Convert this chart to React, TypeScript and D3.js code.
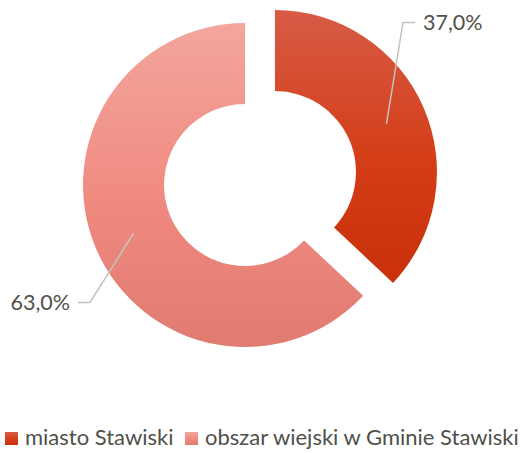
import React from "react";
import * as d3 from "d3";

const categories = ["miasto Stawiski", "obszar wiejski w Gminie Stawiski"];
const values = [37.0, 63.0];
const valueLabels = ["37,0%", "63,0%"];
const gradTop = ["#d75b46", "#f3a69d"];
const gradMid = ["#d43d17", "#f08a80"];
const gradBottom = ["#c9300b", "#e07b71"];
// label anchor offsets (relative to chart centre) for leader line elbow/text
const labelElbow = [
  [143, -156],
  [-170, 124],
];

const W = 526;
const H = 453;
const cx = 260;
const cy = 178.5;
const outerR = 162;
const innerR = 81;
const explode = 16.3;

export default function App() {
  const pie = d3.pie<number>().sort(null).value((d) => d);
  const arcs = pie(values);
  const arcGen = d3.arc<d3.PieArcDatum<number>>().innerRadius(innerR).outerRadius(outerR);
  const midR = (innerR + outerR) / 2;
  const font = "Lato, 'Open Sans', sans-serif";
  const textColor = "#505049";

  return (
    <svg
      width={W}
      height={H}
      style={{ position: "absolute", left: 0, top: 0, background: "#fff" }}
    >
      <defs>
        {arcs.map((a, i) => (
          <linearGradient key={i} id={`g${i}`} x1="0" y1="0" x2="0" y2="1">
            <stop offset="0" stopColor={gradTop[i]} />
            <stop offset="0.55" stopColor={gradMid[i]} />
            <stop offset="1" stopColor={gradBottom[i]} />
          </linearGradient>
        ))}
      </defs>
      {arcs.map((a, i) => {
        const mid = (a.startAngle + a.endAngle) / 2;
        const ox = cx + explode * Math.sin(mid);
        const oy = cy - explode * Math.cos(mid);
        const px = ox + midR * Math.sin(mid);
        const py = oy - midR * Math.cos(mid);
        const ex = cx + labelElbow[i][0];
        const ey = cy + labelElbow[i][1];
        const right = labelElbow[i][0] > 0;
        const hx = ex + (right ? 12 : -12);
        return (
          <g key={i}>
            <path d={arcGen(a) || ""} transform={`translate(${ox},${oy})`} fill={`url(#g${i})`} />
            <polyline
              points={`${px},${py} ${ex},${ey} ${hx},${ey}`}
              fill="none"
              stroke="#c4c4bc"
              strokeWidth={1.5}
            />
            <text
              x={hx + (right ? 8 : -8)}
              y={ey}
              dy="0.35em"
              textAnchor={right ? "start" : "end"}
              fontFamily={font}
              fontSize={21.5}
              fill={textColor}
            >
              {valueLabels[i]}
            </text>
          </g>
        );
      })}
      <g>
        {categories.map((c, i) => {
          const x0 = i === 0 ? 5 : 185;
          return (
            <g key={c}>
              <rect x={x0} y={432} width={13} height={13} fill={`url(#g${i})`} />
              <text x={x0 + 20} y={445} fontFamily={font} fontSize={22} fill={textColor}>
                {c}
              </text>
            </g>
          );
        })}
      </g>
    </svg>
  );
}
